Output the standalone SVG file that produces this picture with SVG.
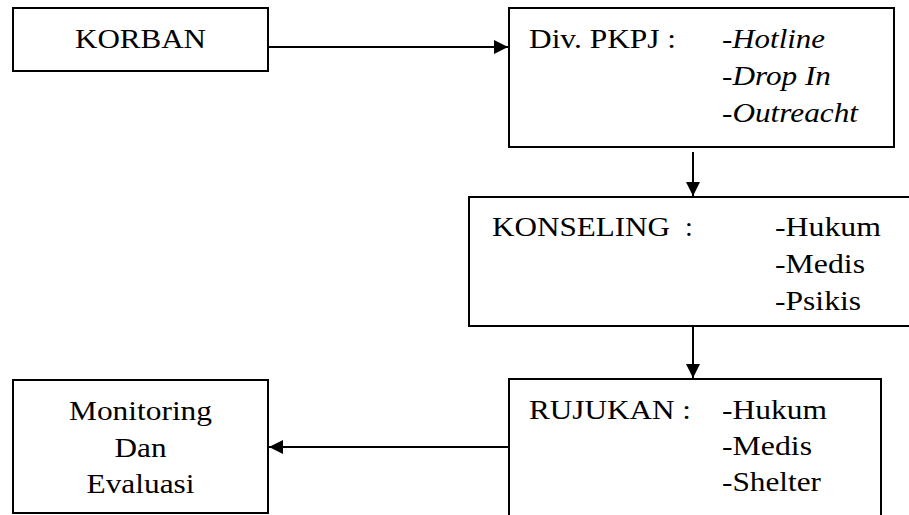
<svg xmlns="http://www.w3.org/2000/svg" width="909" height="515" viewBox="0 0 909 515">
<defs>
<style>
.box{fill:#fff;stroke:#000;stroke-width:2}
.t{font-family:'Liberation Serif','Times New Roman','DejaVu Serif',serif;font-size:28px;fill:#000}
.i{font-style:italic}
.c{text-anchor:middle}
.ln{stroke:#000;stroke-width:2;fill:none}
</style>
<marker id="ah" viewBox="0 0 14 14" refX="14" refY="7" markerWidth="14" markerHeight="14" markerUnits="userSpaceOnUse" orient="auto">
<path d="M0,0 L14,7 L0,14 Z" fill="#000"/>
</marker>
</defs>
<rect width="909" height="515" fill="#fff"/>
<g id="korban">
<rect class="box" x="13" y="8" width="255" height="63"/>
<text class="t c" x="140.5" y="48" textLength="131" lengthAdjust="spacingAndGlyphs">KORBAN</text>
</g>
<g id="divpkpj">
<rect class="box" x="509" y="8" width="385" height="139"/>
<text class="t" x="529" y="48" textLength="147" lengthAdjust="spacingAndGlyphs">Div. PKPJ :</text>
<text class="t" x="722" y="48" textLength="103" lengthAdjust="spacingAndGlyphs">-<tspan class="i">Hotline</tspan></text>
<text class="t" x="722" y="85" textLength="109" lengthAdjust="spacingAndGlyphs">-<tspan class="i">Drop In</tspan></text>
<text class="t" x="722" y="122" textLength="136" lengthAdjust="spacingAndGlyphs">-<tspan class="i">Outreacht</tspan></text>
</g>
<g id="konseling">
<rect class="box" x="469" y="197" width="445" height="129"/>
<text class="t" y="236"><tspan x="492" textLength="178" lengthAdjust="spacingAndGlyphs">KONSELING</tspan><tspan x="678"> :</tspan></text>
<text class="t" x="775" y="236" textLength="106" lengthAdjust="spacingAndGlyphs">-Hukum</text>
<text class="t" x="775" y="273" textLength="90" lengthAdjust="spacingAndGlyphs">-Medis</text>
<text class="t" x="775" y="310" textLength="86" lengthAdjust="spacingAndGlyphs">-Psikis</text>
</g>
<g id="rujukan">
<rect class="box" x="509" y="379" width="372" height="145"/>
<text class="t" x="529" y="419" textLength="162" lengthAdjust="spacingAndGlyphs">RUJUKAN :</text>
<text class="t" x="722" y="419" textLength="105" lengthAdjust="spacingAndGlyphs">-Hukum</text>
<text class="t" x="722" y="455" textLength="90" lengthAdjust="spacingAndGlyphs">-Medis</text>
<text class="t" x="722" y="491" textLength="99" lengthAdjust="spacingAndGlyphs">-Shelter</text>
</g>
<g id="monitoring">
<rect class="box" x="13" y="380" width="255" height="133"/>
<text class="t c" x="140.5" y="420" textLength="143" lengthAdjust="spacingAndGlyphs">Monitoring</text>
<text class="t c" x="140.5" y="457" textLength="52" lengthAdjust="spacingAndGlyphs">Dan</text>
<text class="t c" x="140.5" y="493" textLength="108" lengthAdjust="spacingAndGlyphs">Evaluasi</text>
</g>
<g id="connectors">
<line class="ln" x1="268" y1="47" x2="508" y2="47" marker-end="url(#ah)"/>
<line class="ln" x1="693" y1="152" x2="693" y2="196" marker-end="url(#ah)"/>
<line class="ln" x1="693" y1="326" x2="693" y2="378" marker-end="url(#ah)"/>
<line class="ln" x1="509" y1="447" x2="269" y2="447" marker-end="url(#ah)"/>
</g>
</svg>
